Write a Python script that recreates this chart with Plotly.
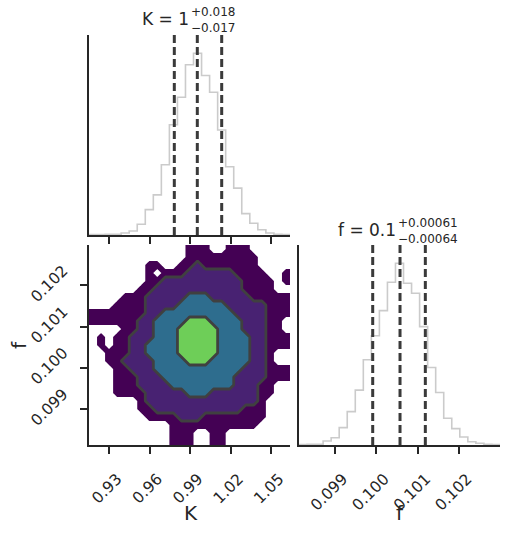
import numpy as np
import plotly.graph_objects as go

W, H = 509, 534

# ---------------- data ----------------
K_range = [0.91496, 1.06385]
f_range = [0.098131, 0.102982]
n_bins = 25

K_counts = [0.5, 0.5, 0.6, 0.7, 2.0, 4.0, 10.7, 25.3, 40.0, 70.0, 110.0, 137.3, 169.7,
            181.3, 159.0, 142.3, 104.7, 68.0, 46.7, 21.3, 11.7, 5.3, 2.0, 0.7, 0.5]
f_counts = [0.5, 0.6, 0.7, 4.0, 7.3, 17.3, 33.3, 54.7, 85.0, 109.0, 134.0, 162.3, 181.3,
            161.3, 151.3, 118.0, 77.3, 52.3, 26.7, 16.3, 8.0, 3.3, 1.7, 0.7, 0.5]

K_quantiles = [0.97815, 0.99519, 1.01326]
f_quantiles = [0.09991, 0.100569, 0.10118]

K_ticks = [0.93, 0.96, 0.99, 1.02, 1.05]
K_ticktext = ["0.93", "0.96", "0.99", "1.02", "1.05"]
f_ticks = [0.099, 0.100, 0.101, 0.102]
f_ticktext = ["0.099", "0.100", "0.101", "0.102"]

# 2D histogram cells (row 0 = bottom, column 0 = left) that reach each
# density level, as runs of columns
level1_runs = {24: [(12, 14), (17, 19)], 23: [(12, 20)], 22: [(7, 8), (11, 20)],
               21: [(7, 7), (9, 21), (24, 24)], 20: [(7, 22), (24, 24)], 19: [(6, 22)],
               18: [(4, 24)], 17: [(3, 24)], 16: [(0, 24)], 15: [(0, 23)], 14: [(4, 23)],
               13: [(1, 1), (3, 24)], 12: [(1, 1), (3, 24)], 11: [(2, 22)], 10: [(2, 22)],
               9: [(3, 24)], 8: [(3, 24)], 7: [(3, 22)], 6: [(3, 22)], 5: [(6, 21)],
               4: [(6, 21)], 3: [(7, 21)], 2: [(10, 20)], 1: [(10, 12), (15, 16)],
               0: [(10, 12), (15, 16)]}
level2_runs = {22: [(13, 13)], 21: [(12, 17)], 20: [(9, 18)], 19: [(8, 18)], 18: [(7, 19)],
               17: [(7, 21)], 16: [(7, 21)], 15: [(6, 21)], 14: [(6, 21)], 13: [(5, 21)],
               12: [(5, 21)], 11: [(5, 21)], 10: [(4, 21)], 9: [(5, 21)], 8: [(6, 21)],
               7: [(6, 20)], 6: [(7, 20)], 5: [(7, 20)], 4: [(8, 18)], 3: [(11, 13)]}
level3_runs = {18: [(12, 14)], 17: [(11, 16)], 16: [(9, 17)], 15: [(8, 18)], 14: [(8, 18)],
               13: [(8, 19)], 12: [(7, 19)], 11: [(7, 19)], 10: [(8, 19)], 9: [(8, 18)],
               8: [(9, 17)], 7: [(10, 17)], 6: [(12, 14)]}
level4_runs = {15: [(12, 14)], 14: [(11, 15)], 13: [(11, 15)], 12: [(11, 15)],
               11: [(11, 15)], 10: [(12, 14)]}

K_title = ("K = 1", "+0.018", "\u22120.017")
f_title = ("f = 0.1", "+0.00061", "\u22120.00064")

# ---------------- styling ----------------
FONT = "DejaVu Sans"
TXT = "#262626"
AX = "#262626"
HIST_C = "#cbcbcb"
Q_C = "#3a3a3a"
LINE_C = "#404040"
C1, C2, C3, C4 = "#440154", "#482272", "#2e6d8e", "#6ece58"


def px_x(p):
    return p / W


def px_y(p):
    return 1 - p / H


dom_x1 = [px_x(89), px_x(290)]
dom_x2 = [px_x(299), px_x(500)]
dom_y1 = [px_y(235), px_y(35)]
dom_y2 = [px_y(445), px_y(245)]

fig = go.Figure()

K_edges = np.linspace(K_range[0], K_range[1], n_bins + 1)
f_edges = np.linspace(f_range[0], f_range[1], n_bins + 1)

# top histogram (K)
fig.add_trace(go.Scatter(x=K_edges, y=list(K_counts) + [K_counts[-1]], mode="lines",
                         line=dict(color=HIST_C, width=1.6, shape="hv"),
                         xaxis="x", yaxis="y", hoverinfo="skip", showlegend=False))
Kmax = max(K_counts) * 1.1
for q in K_quantiles:
    fig.add_trace(go.Scatter(x=[q, q], y=[0, Kmax], mode="lines",
                             line=dict(color=Q_C, width=3, dash="8px,4px"),
                             xaxis="x", yaxis="y", showlegend=False, hoverinfo="skip"))

# right histogram (f)
fig.add_trace(go.Scatter(x=f_edges, y=list(f_counts) + [f_counts[-1]], mode="lines",
                         line=dict(color=HIST_C, width=1.6, shape="hv"),
                         xaxis="x3", yaxis="y3", hoverinfo="skip", showlegend=False))
fmax = max(f_counts) * 1.1
for q in f_quantiles:
    fig.add_trace(go.Scatter(x=[q, q], y=[0, fmax], mode="lines",
                             line=dict(color=Q_C, width=3, dash="8px,4px"),
                             xaxis="x3", yaxis="y3", showlegend=False, hoverinfo="skip"))

# 2D density level map built from the runs
Z = np.zeros((n_bins, n_bins))
for lvl, runs in enumerate([level1_runs, level2_runs, level3_runs, level4_runs], start=1):
    for r, segs in runs.items():
        for a, bb in segs:
            Z[r, a:bb + 1] = lvl

Kc = 0.5 * (K_edges[:-1] + K_edges[1:])
fc = 0.5 * (f_edges[:-1] + f_edges[1:])
# pad so filled regions reach the panel edges
Zp = np.pad(Z, 1, mode="edge")
Kp = np.concatenate([[K_range[0]], Kc, [K_range[1]]])
fp = np.concatenate([[f_range[0]], fc, [f_range[1]]])

# plotly maps the colorscale over [start - size/2, end + size/2] = [0, 4]
cs = [[0, "rgba(255,255,255,0)"], [0.125, "rgba(255,255,255,0)"],
      [0.125, C1], [0.375, C1], [0.375, C2], [0.625, C2],
      [0.625, C3], [0.875, C3], [0.875, C4], [1, C4]]
fig.add_trace(go.Contour(x=Kp, y=fp, z=Zp, xaxis="x2", yaxis="y2",
                         colorscale=cs, showscale=False,
                         contours=dict(start=0.5, end=3.5, size=1, coloring="fill"),
                         line=dict(width=0), line_smoothing=0, hoverinfo="skip"))
fig.add_trace(go.Contour(x=Kp, y=fp, z=Zp, xaxis="x2", yaxis="y2", showscale=False,
                         contours=dict(start=1.5, end=3.5, size=1, coloring="none"),
                         line=dict(width=2.8, color=LINE_C), line_smoothing=0,
                         hoverinfo="skip"))

axis_common = dict(showline=True, linecolor=AX, linewidth=1.5, ticks="outside",
                   ticklen=7, tickwidth=1.5, tickcolor=AX, showgrid=False, zeroline=False,
                   tickfont=dict(family=FONT, size=15.5, color=TXT), mirror=False,
                   automargin=False)
xlab = dict(tickangle=-45, ticklabelstandoff=10, ticklabelshift=8)
ylab = dict(tickangle=-45, ticklabelstandoff=14, ticklabelshift=-17)
plain_y = dict(showline=True, linecolor=AX, linewidth=1.5, ticks="", showticklabels=False,
               showgrid=False, zeroline=False, automargin=False)

fig.update_layout(
    width=W, height=H, margin=dict(l=0, r=0, t=0, b=0, autoexpand=False),
    paper_bgcolor="white", plot_bgcolor="white", showlegend=False,
    xaxis=dict(domain=dom_x1, anchor="y", range=K_range, tickvals=K_ticks,
               showticklabels=False, **axis_common),
    yaxis=dict(domain=dom_y1, anchor="x", range=[0, Kmax], **plain_y),
    xaxis2=dict(domain=dom_x1, anchor="y2", range=K_range, tickvals=K_ticks,
                ticktext=K_ticktext, **xlab, **axis_common),
    yaxis2=dict(domain=dom_y2, anchor="x2", range=f_range, tickvals=f_ticks,
                ticktext=f_ticktext, **ylab, **axis_common),
    xaxis3=dict(domain=dom_x2, anchor="y3", range=f_range, tickvals=f_ticks,
                ticktext=f_ticktext, **xlab, **axis_common),
    yaxis3=dict(domain=dom_y2, anchor="x3", range=[0, fmax], **plain_y),
)


def ann(text, x, y, size, xanchor="center", yanchor="middle", angle=0):
    fig.add_annotation(text=text, x=px_x(x), y=px_y(y), xref="paper", yref="paper",
                       showarrow=False, xanchor=xanchor, yanchor=yanchor, textangle=angle,
                       borderpad=0, font=dict(family=FONT, size=size, color=TXT))


# panel titles
ann(K_title[0], 190, 19, 17, xanchor="right")
ann(K_title[1], 190, 20, 12, xanchor="left", yanchor="bottom")
ann(K_title[2], 190, 20, 12, xanchor="left", yanchor="top")
ann(f_title[0], 397, 230, 17, xanchor="right")
ann(f_title[1], 397, 231, 12, xanchor="left", yanchor="bottom")
ann(f_title[2], 397, 231, 12, xanchor="left", yanchor="top")

# axis titles
ann("K", 191, 513, 20)
ann("f", 400, 513, 20)
ann("f", 19, 345, 20, angle=-90)

fig.write_html("out.html")
